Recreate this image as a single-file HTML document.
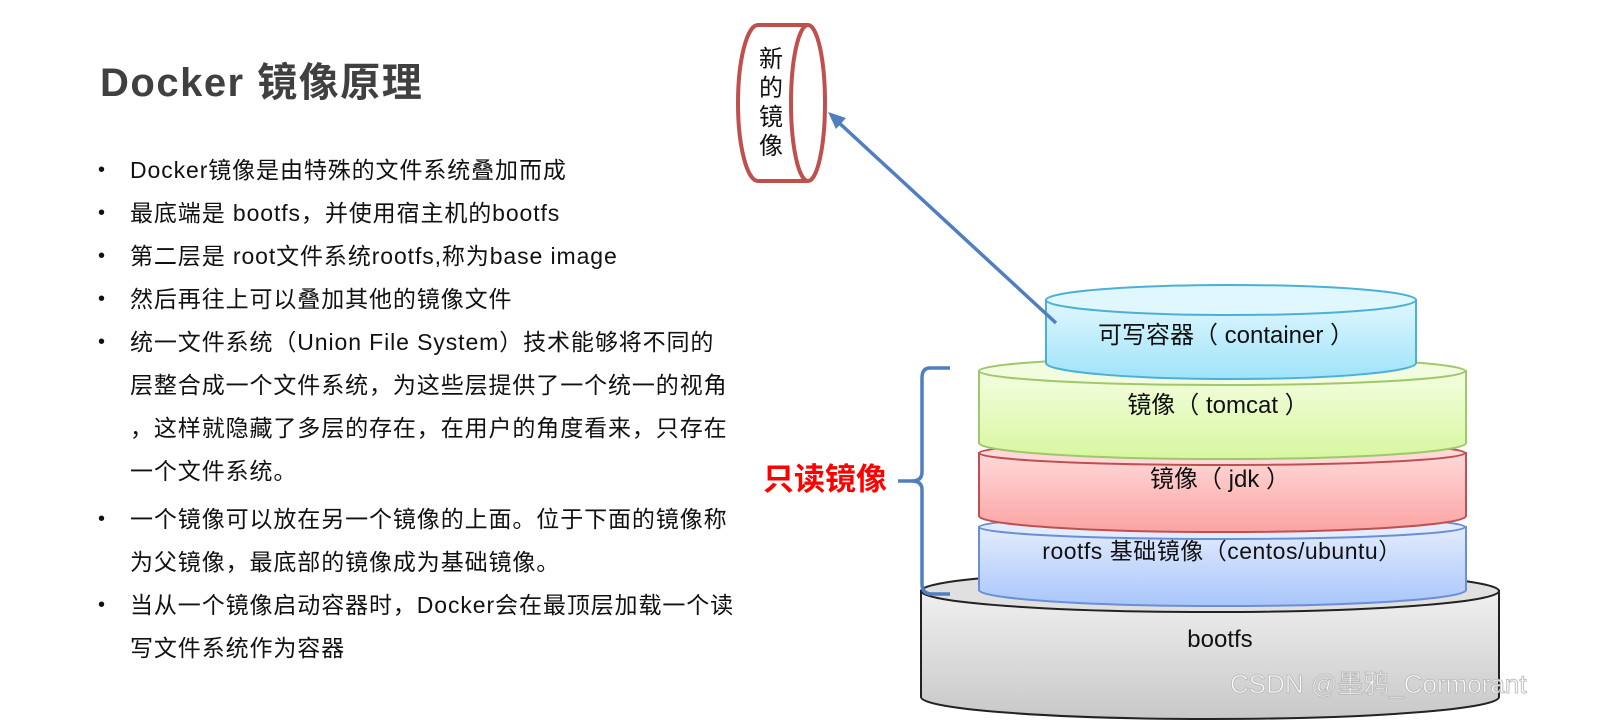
<!DOCTYPE html>
<html><head><meta charset="utf-8"><style>
body{margin:0;width:1600px;height:726px;background:#fff;overflow:hidden;position:relative;font-family:"Liberation Sans","Noto Sans CJK SC",sans-serif;}
h1{position:absolute;left:100px;top:50px;margin:0;font-size:40px;letter-spacing:1.5px;font-weight:bold;color:#404040;}
.l{position:absolute;left:130px;font-size:23px;letter-spacing:0.9px;color:#111;white-space:nowrap;line-height:30px;}
.b::before{content:"•";position:absolute;left:-32px;top:0;font-size:20px;}
svg{position:absolute;left:0;top:0}
</style></head><body>
<h1>Docker 镜像原理</h1>
<div class="l b" style="top:155px">Docker镜像是由特殊的文件系统叠加而成</div>
<div class="l b" style="top:198px">最底端是 bootfs，并使用宿主机的bootfs</div>
<div class="l b" style="top:241px">第二层是 root文件系统rootfs,称为base image</div>
<div class="l b" style="top:284px">然后再往上可以叠加其他的镜像文件</div>
<div class="l b" style="top:327px">统一文件系统（Union File System）技术能够将不同的</div>
<div class="l" style="top:370px">层整合成一个文件系统，为这些层提供了一个统一的视角</div>
<div class="l" style="top:413px">，这样就隐藏了多层的存在，在用户的角度看来，只存在</div>
<div class="l" style="top:456px">一个文件系统。</div>
<div class="l b" style="top:504px">一个镜像可以放在另一个镜像的上面。位于下面的镜像称</div>
<div class="l" style="top:547px">为父镜像，最底部的镜像成为基础镜像。</div>
<div class="l b" style="top:590px">当从一个镜像启动容器时，Docker会在最顶层加载一个读</div>
<div class="l" style="top:633px">写文件系统作为容器</div>
<svg width="1600" height="726" font-family="Liberation Sans,Noto Sans CJK SC,sans-serif">
<defs>
<linearGradient id="gg" x1="0" y1="0" x2="0" y2="1"><stop offset="0" stop-color="#f0f0f0"/><stop offset="1" stop-color="#c8c8c8"/></linearGradient>
<linearGradient id="gb" x1="0" y1="0" x2="0" y2="1"><stop offset="0" stop-color="#e3ecfd"/><stop offset="1" stop-color="#a9c6fb"/></linearGradient>
<linearGradient id="gr" x1="0" y1="0" x2="0" y2="1"><stop offset="0" stop-color="#ffd9d9"/><stop offset="1" stop-color="#fba3a3"/></linearGradient>
<linearGradient id="ggr" x1="0" y1="0" x2="0" y2="1"><stop offset="0" stop-color="#f4fde0"/><stop offset="1" stop-color="#d7f7a0"/></linearGradient>
<linearGradient id="gc" x1="0" y1="0" x2="0" y2="1"><stop offset="0" stop-color="#e0f7fe"/><stop offset="1" stop-color="#9fe3fa"/></linearGradient>
</defs>
<path d="M921 591 L921 697 A289 22 0 0 0 1499 697 L1499 591 Z" fill="url(#gg)" stroke="#222" stroke-width="2"/>
<ellipse cx="1210" cy="591" rx="289" ry="21" fill="#e0e0e0" stroke="#222" stroke-width="2"/>
<text x="1220" y="647" font-size="24" text-anchor="middle" fill="#111">bootfs</text>
<path d="M979 527 L979 590 A243 16 0 0 0 1466 590 L1466 527 Z" fill="url(#gb)" stroke="#6a8fd8" stroke-width="2"/>
<ellipse cx="1222" cy="527" rx="243" ry="12" fill="#e3ecfd" stroke="#6a8fd8" stroke-width="2"/>
<text x="1222" y="559" font-size="23" letter-spacing="0.5" text-anchor="middle" fill="#111">rootfs 基础镜像（centos/ubuntu）</text>
<path d="M979 453 L979 516 A243 16 0 0 0 1466 516 L1466 453 Z" fill="url(#gr)" stroke="#c05050" stroke-width="2"/>
<ellipse cx="1222" cy="453" rx="243" ry="12" fill="#ffd9d9" stroke="#c05050" stroke-width="2"/>
<text x="1220" y="487" font-size="24" text-anchor="middle" fill="#111">镜像（ jdk ）</text>
<path d="M979 371 L979 443 A243 16 0 0 0 1466 443 L1466 371 Z" fill="url(#ggr)" stroke="#9fc86a" stroke-width="2"/>
<ellipse cx="1222" cy="371" rx="243" ry="14" fill="#f2fcde" stroke="#9fc86a" stroke-width="2"/>
<text x="1218" y="413" font-size="24" text-anchor="middle" fill="#111">镜像（ tomcat ）</text>
<path d="M1046 300 L1046 363 A185 16 0 0 0 1416 363 L1416 300 Z" fill="url(#gc)" stroke="#4bb0d8" stroke-width="2"/>
<ellipse cx="1231" cy="300" rx="185" ry="15" fill="#e0f7fe" stroke="#4bb0d8" stroke-width="2"/>
<text x="1226" y="343" font-size="24" text-anchor="middle" fill="#111">可写容器（  container  ）</text>
<path d="M950 368 L930 368 Q922 368 922 378 L922 472 Q922 481 912 481 L898 481 M912 481 Q922 481 922 490 L922 584 Q922 594 932 594 L950 594" fill="none" stroke="#4f7fc0" stroke-width="3.5"/>
<text x="763" y="490" font-size="31" font-weight="bold" fill="#f00">只读镜像</text>
<line x1="1056" y1="323" x2="836" y2="120" stroke="#4f7fc0" stroke-width="3.5"/>
<polygon points="828,112 846,118 836,129" fill="#4f7fc0"/>
<path d="M808 25 L758 25 A20 78 0 0 0 758 181 L808 181" fill="#fff" stroke="#c0504d" stroke-width="4"/>
<ellipse cx="808" cy="103" rx="17" ry="78" fill="#fff" stroke="#c0504d" stroke-width="4"/>
<g font-size="24" fill="#111" text-anchor="middle"><text x="771" y="67">新</text><text x="771" y="96">的</text><text x="771" y="125">镜</text><text x="771" y="154">像</text></g>
<text x="1230" y="693" font-size="26" fill="#fff" stroke="#bbb" stroke-width="1" opacity="0.9">CSDN @墨鸦_Cormorant</text>
</svg>
</body></html>
